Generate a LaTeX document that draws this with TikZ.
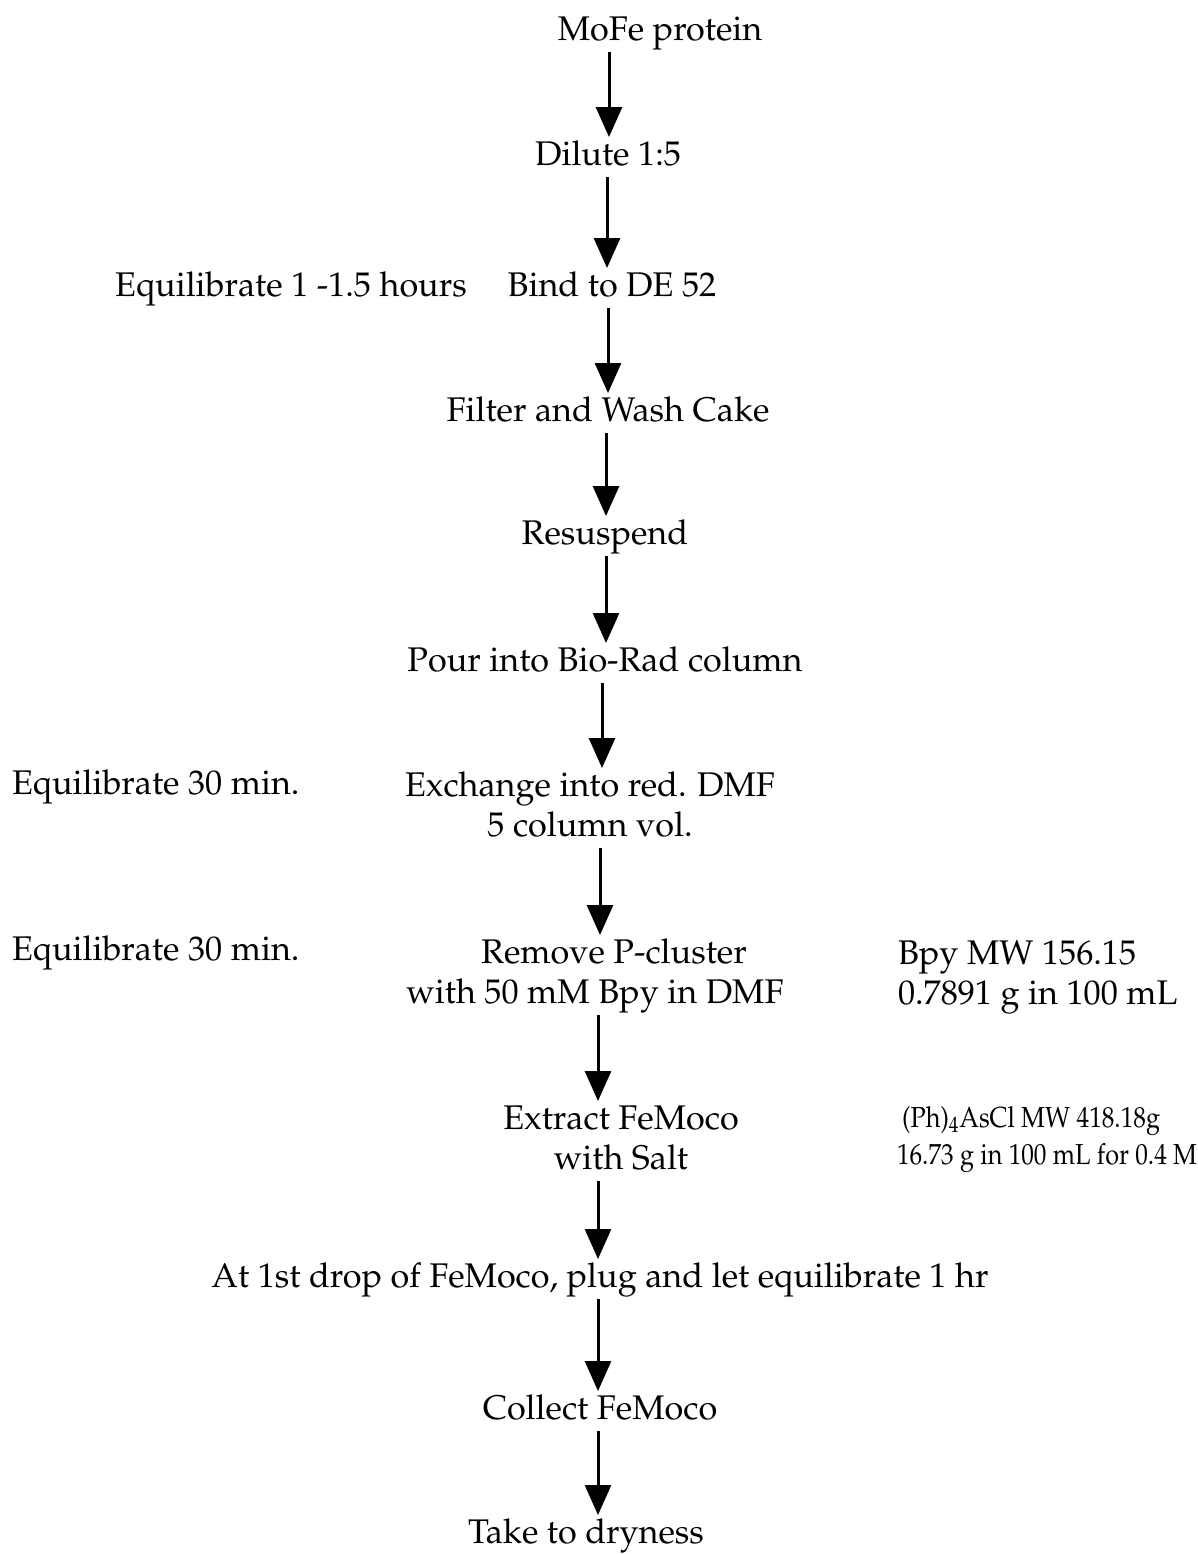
\documentclass[tikz,border=0pt]{standalone}
\usepackage[T1]{fontenc}
\usepackage{mathpazo}
\usetikzlibrary{arrows.meta}
\newcommand{\lines}[2][c]{\begin{tabular}[t]{@{}#1@{}}#2\end{tabular}}
\begin{document}
\begin{tikzpicture}[x=0.5pt,y=-0.5pt,
  font=\fontsize{17.1}{20}\selectfont,
  txt/.style={inner sep=0pt,outer sep=0pt,anchor=base},
  side/.style={inner sep=0pt,outer sep=0pt,anchor=base west},
  small/.style={font=\fontsize{14.5}{18.5}\selectfont},
  flow/.style={line width=1.5pt,-{Triangle[width=13pt,length=15pt]}}]
\useasboundingbox (0,0) rectangle (1198,1554);

% main steps
\node[txt] (s1)  at (660,40)   {\lines{MoFe protein}};
\node[txt] (s2)  at (608,165)  {\lines{Dilute 1:5}};
\node[txt] (s3)  at (612,296)  {\lines{Bind to DE 52}};
\node[txt] (s4)  at (608,421)  {\lines{Filter and Wash Cake}};
\node[txt] (s5)  at (605,544)  {\lines{Resuspend}};
\node[txt] (s6)  at (605,671)  {\lines{Pour into Bio-Rad column}};
\node[txt] (s7)  at (590,796)  {\lines{Exchange into red. DMF\\5 column vol.}};
\node[txt] (s8)  at (595,963)  {\lines{\hspace*{19pt}Remove P-cluster\\with 50 mM Bpy in DMF}};
\node[txt] (s9)  at (621,1129) {\lines{Extract FeMoco\\with Salt}};
\node[txt] (s10) at (600,1287) {\lines{At 1st drop of FeMoco, plug and let equilibrate 1 hr}};
\node[txt] (s11) at (600,1419) {\lines{Collect FeMoco}};
\node[txt] (s12) at (586,1543) {\lines{Take to dryness}};

% side notes
\node[txt]  (n1) at (291,296) {\lines{Equilibrate 1 -1.5 hours}};
\node[side] (n2) at (12,794)  {\lines{Equilibrate 30 min.}};
\node[side] (n3) at (12,960)  {\lines{Equilibrate 30 min.}};
\node[side] (n4) at (898,964) {\lines[l]{Bpy MW 156.15\\0.7891 g in 100 mL}};
\node[side,small] (n5) at (897,1127)
  {\scalebox{0.87}[1]{\lines[l]{\hspace*{3pt}(Ph)$_4$AsCl MW 418.18g\\16.73 g in 100 mL for 0.4 M}}};

% arrow columns
\coordinate (c1)  at (609,0);
\coordinate (c2)  at (607,0);
\coordinate (c3)  at (608,0);
\coordinate (c4)  at (606,0);
\coordinate (c5)  at (606,0);
\coordinate (c6)  at (602,0);
\coordinate (c7)  at (600,0);
\coordinate (c8)  at (598,0);
\coordinate (c9)  at (598,0);
\coordinate (c10) at (598,0);
\coordinate (c11) at (598,0);

\draw[flow] (s1.south -| c1)   -- (s2.north -| c1);
\draw[flow] (s2.south -| c2)   -- (s3.north -| c2);
\draw[flow] (s3.south -| c3)   -- (s4.north -| c3);
\draw[flow] (s4.south -| c4)   -- (s5.north -| c4);
\draw[flow] (s5.south -| c5)   -- (s6.north -| c5);
\draw[flow] (s6.south -| c6)   -- (s7.north -| c6);
\draw[flow] (s7.south -| c7)   -- (s8.north -| c7);
\draw[flow] (s8.south -| c8)   -- (s9.north -| c8);
\draw[flow] (s9.south -| c9)   -- (s10.north -| c9);
\draw[flow] (s10.south -| c10) -- (s11.north -| c10);
\draw[flow] (s11.south -| c11) -- (s12.north -| c11);
\end{tikzpicture}
\end{document}
